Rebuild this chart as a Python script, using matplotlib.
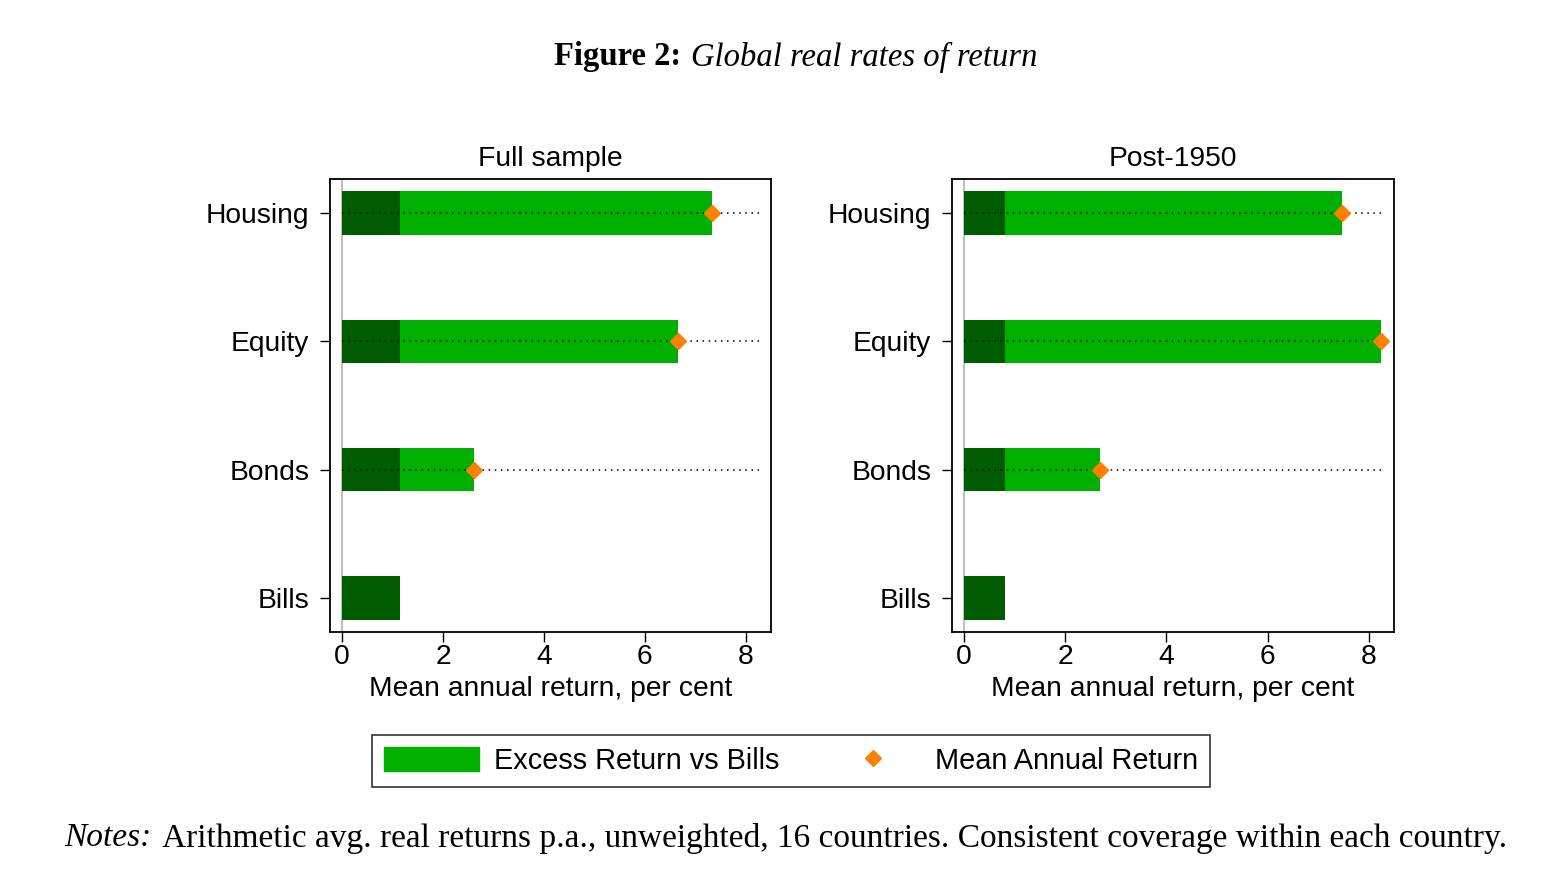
import matplotlib.pyplot as plt
from matplotlib.patches import Patch
from matplotlib.lines import Line2D

# data (mean annual real return, per cent)
categories = ['Housing', 'Equity', 'Bonds', 'Bills']
panels = ['Full sample', 'Post-1950']
mean_full = [7.33, 6.65, 2.61, 1.15]
mean_post = [7.47, 8.24, 2.69, 0.81]
xticks = [0, 2, 4, 6, 8]

dark = '#005c00'
light = '#00b000'
orange = '#ff7f00'

plt.rcParams['font.family'] = ['Liberation Sans', 'DejaVu Sans']

fig = plt.figure(figsize=(15.6, 8.91), dpi=100)
W, H = 1560, 891
FS = 20.3


def box(x0, y0, x1, y1):
    return [x0 / W, 1 - y1 / H, (x1 - x0) / W, (y1 - y0) / H]


ypos = list(range(len(categories)))[::-1]  # Housing at top


def draw_panel(ax, title, means):
    bills = means[-1]
    ax.axvline(0, color='#c0c0c0', lw=1.5, zorder=1)
    for y, cat, m in zip(ypos, categories, means):
        ax.barh(y, bills, height=0.34, color=dark, zorder=2)
        if cat != 'Bills':
            ax.barh(y, m - bills, left=bills, height=0.34, color=light, zorder=2)
            ax.hlines(y, 0, 8.28, colors='black', linestyles=(0, (1, 3)), lw=1.1, zorder=3)
            ax.plot(m, y, marker='D', color=orange, markersize=8.5, zorder=4, ls='none')
    ax.set_xlim(-0.24, 8.5)
    ax.set_ylim(-0.265, 3.265)
    ax.set_yticks(ypos)
    ax.set_yticklabels(categories)
    ax.set_xticks(xticks)
    ax.tick_params(axis='both', labelsize=FS, length=7, width=1, direction='out')
    ax.tick_params(axis='y', pad=8)
    ax.tick_params(axis='x', pad=2)
    ax.set_title(title, fontsize=FS, pad=9)
    ax.set_xlabel('Mean annual return, per cent', fontsize=FS, labelpad=4)
    for s in ax.spines.values():
        s.set_linewidth(1.3)


ax1 = fig.add_axes(box(330, 179, 771, 632))
draw_panel(ax1, panels[0], mean_full)
ax2 = fig.add_axes(box(952, 179, 1394, 632))
draw_panel(ax2, panels[1], mean_post)

handles = [Patch(facecolor=light, edgecolor=light),
           Line2D([], [], marker='D', color=orange, ls='none', markersize=8.5)]
leg = fig.legend(handles, ['Excess Return vs Bills', 'Mean Annual Return'],
                 loc='center', bbox_to_anchor=(791 / W, 1 - 761 / H), ncol=2,
                 fontsize=20.8, frameon=True, fancybox=False, edgecolor='black',
                 handlelength=3.3, handleheight=0.85, handletextpad=0.5,
                 columnspacing=1.6, borderpad=0.4, borderaxespad=0)
leg.get_frame().set_linewidth(1.2)

serif = ['Liberation Serif', 'DejaVu Serif']
fig.text(681 / W, 1 - 57 / H, 'Figure 2:', fontsize=23.5, fontweight='bold',
         family=serif, ha='right', va='center')
fig.text(691 / W, 1 - 57 / H, 'Global real rates of return', fontsize=23.5,
         style='italic', family=serif, ha='left', va='center')
fig.text(152 / W, 1 - 838 / H, 'Notes:', fontsize=24, style='italic',
         family=serif, ha='right', va='center')
fig.text(162 / W, 1 - 838 / H,
         'Arithmetic avg. real returns p.a., unweighted, 16 countries. Consistent coverage within each country.',
         fontsize=24, family=serif, ha='left', va='center')

fig.savefig('out.png', dpi=100, facecolor='white')
